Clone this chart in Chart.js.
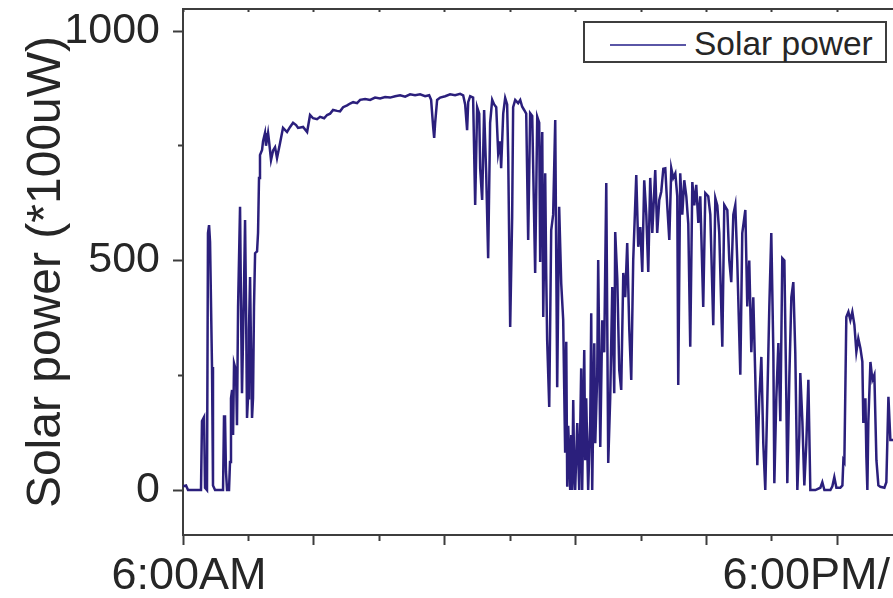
<!DOCTYPE html>
<html>
<head>
<meta charset="utf-8">
<title>Solar power</title>
<script src="https://cdn.jsdelivr.net/npm/chart.js@4.4.1/dist/chart.umd.min.js"></script>
<style>
  html, body { margin: 0; padding: 0; background: #fff; }
  #wrap { position: relative; width: 893px; height: 598px; overflow: hidden; }
  #legend {
    position: absolute; left: 583px; top: 21px; width: 304px; height: 42px;
    box-sizing: border-box; border: 2px solid #3d3d3d; background: #fff;
    font-family: 'Liberation Sans', Arial, sans-serif; color: #262626;
  }
  #legend .swatch { position: absolute; left: 25px; top: 21px; width: 76px; height: 2px; background: #5a56a6; }
  #legend .label { position: absolute; left: 109px; top: 4px; font-size: 33.5px; line-height: 33px; white-space: nowrap; }
</style>
</head>
<body>
<div id="wrap">
  <canvas id="chart" width="893" height="598"></canvas>
  <div id="legend"><span class="swatch"></span><span class="label">Solar power</span></div>
</div>
<script>
// minutes after 6:00AM
const timeMin = [
  0, 2.8, 4.6, 16.5, 17.4, 19.3, 20.2, 22.0, 22.9, 23.9,
  24.8, 26.6, 27.5, 29.4, 36.7, 37.6, 38.5, 39.4, 40.4, 42.2,
  43.1, 44.0, 45.0, 45.9, 46.8, 48.6, 49.5, 50.5, 52.3, 53.2,
  54.1, 56.0, 56.9, 57.8, 58.7, 59.6, 60.5, 61.5, 62.4, 63.3,
  64.2, 65.1, 66.1, 67.9, 68.8, 69.7, 70.6, 72.5, 73.4, 75.2,
  76.1, 78.0, 78.9, 80.7, 82.6, 84.4, 86.2, 89.0, 91.7, 95.4,
  98.2, 100.9, 103.7, 105.5, 110.1, 113.8, 116.5, 119.3, 122.9, 125.7,
  129.4, 132.1, 134.9, 137.6, 141.3, 144.0, 146.8, 150.5, 153.2, 156.0,
  159.6, 162.4, 167.0, 171.6, 176.1, 180.7, 185.3, 189.9, 194.5, 199.1,
  203.7, 208.2, 212.8, 217.4, 222.0, 225.7, 227.5, 229.4, 230.3, 231.2,
  233.0, 235.8, 240.4, 244.9, 249.5, 254.1, 256.9, 258.7, 260.5, 261.5,
  263.3, 266.0, 267.9, 269.7, 271.6, 272.5, 274.3, 276.1, 278.0, 279.8,
  281.6, 283.5, 285.3, 287.2, 289.0, 290.8, 291.7, 293.6, 295.4, 297.2,
  298.2, 300.0, 301.8, 302.7, 304.6, 307.3, 309.2, 311.0, 312.8, 314.7,
  316.5, 318.3, 320.2, 322.9, 324.8, 326.6, 327.5, 328.4, 329.4, 330.3,
  332.1, 333.0, 333.9, 335.8, 337.6, 339.4, 341.3, 343.1, 344.9, 346.8,
  348.6, 350.4, 351.4, 352.3, 353.2, 354.1, 355.0, 356.0, 356.9, 357.8,
  358.7, 359.6, 361.5, 363.3, 365.1, 366.0, 367.9, 368.8, 369.7, 371.5,
  373.4, 374.3, 375.2, 377.1, 378.0, 379.8, 380.7, 382.6, 384.4, 386.2,
  388.1, 389.9, 391.7, 393.6, 395.4, 396.3, 398.2, 400.0, 401.8, 403.7,
  405.5, 407.3, 409.2, 411.0, 412.8, 415.6, 417.4, 419.3, 421.1, 422.9,
  424.8, 426.6, 428.4, 430.3, 433.0, 434.8, 436.7, 438.5, 440.4, 442.2,
  444.0, 445.9, 447.7, 449.5, 451.4, 453.2, 454.1, 455.9, 457.8, 459.6,
  461.5, 463.3, 465.1, 467.0, 468.8, 470.6, 472.5, 474.3, 477.0, 478.9,
  481.6, 483.5, 486.2, 488.1, 489.9, 491.7, 494.5, 496.3, 499.1, 500.9,
  502.7, 504.6, 506.4, 508.2, 511.0, 512.8, 515.6, 517.4, 519.2, 521.1,
  522.9, 524.7, 526.6, 528.4, 530.3, 532.1, 533.9, 535.8, 537.6, 539.4,
  541.3, 542.2, 544.0, 545.9, 547.7, 549.5, 551.4, 553.2, 554.1, 556.0,
  557.8, 559.6, 561.4, 563.3, 565.1, 566.0, 567.9, 569.7, 571.5, 573.4,
  575.2, 579.8, 584.4, 586.2, 588.1, 593.6, 595.4, 597.2, 599.1, 602.7,
  604.6, 605.5, 606.4, 608.2, 610.1, 611.9, 613.7, 615.6, 617.4, 619.2,
  621.1, 622.9, 623.8, 625.7, 626.6, 627.5, 628.4, 630.3, 632.1, 633.9,
  635.8, 637.6, 639.4, 643.1, 644.9, 646.8, 648.6, 651.4
];

// *100uW
const solarPower = [
  8, 10, 0, 0, 150, 159, 5, 0, 560, 577,
  540, 268, 10, 0, 0, 160, 163, 40, 0, 0,
  61, 200, 218, 120, 276, 260, 141, 400, 617, 400,
  211, 450, 588, 400, 157, 200, 350, 464, 300, 157,
  200, 400, 516, 520, 560, 680, 730, 741, 760, 778,
  750, 778, 760, 719, 740, 747, 723, 756, 789, 780,
  791, 800, 795, 789, 791, 780, 817, 810, 808, 813,
  810, 817, 820, 828, 826, 825, 834, 838, 842, 845,
  843, 850, 852, 850, 855, 853, 856, 855, 858, 860,
  857, 862, 860, 862, 858, 860, 850, 790, 767, 800,
  850, 855, 858, 862, 860, 863, 860, 840, 784, 845,
  858, 855, 621, 834, 820, 700, 632, 828, 690, 505,
  800, 850, 840, 834, 734, 760, 701, 820, 854, 840,
  725, 355, 594, 834, 850, 843, 850, 835, 828, 820,
  545, 821, 815, 473, 813, 800, 497, 690, 780, 377,
  690, 475, 327, 181, 566, 600, 806, 224, 617, 450,
  371, 81, 323, 7, 140, 80, 0, 120, 0, 196,
  40, 0, 146, 0, 265, 0, 305, 65, 200, 0,
  150, 385, 0, 320, 102, 250, 501, 94, 370, 300,
  669, 59, 200, 442, 211, 562, 460, 261, 218, 473,
  420, 538, 350, 240, 500, 686, 530, 573, 475, 675,
  600, 475, 680, 560, 697, 560, 632, 650, 700, 701,
  620, 545, 701, 680, 690, 640, 229, 690, 600, 675,
  640, 580, 312, 671, 620, 665, 582, 640, 399, 647,
  640, 600, 359, 636, 620, 560, 312, 621, 610, 500,
  453, 600, 621, 500, 251, 560, 610, 400, 500, 300,
  420, 250, 54, 200, 290, 100, 0, 200, 400, 560,
  300, 15, 200, 320, 150, 505, 500, 200, 15, 250,
  420, 453, 300, 0, 120, 255, 150, 10, 100, 240,
  0, 0, 5, 17, 0, 0, 8, 28, 5, 5,
  10, 65, 61, 377, 388, 370, 388, 360, 301, 330,
  309, 280, 146, 200, 72, 0, 150, 279, 240, 251,
  65, 10, 7, 5, 17, 203, 109, 109
];

const xMajor = [0, 120, 240, 360, 480, 600];
const xMinor = [60, 180, 300, 420, 540];
const xLabelAt = [5.5, 571.5];
const xLabelText = ['6:00AM', '6:00PM/'];
const yMajor = [0, 500, 1000];
const yMinor = [250, 750];

const AXIS = '#3d3d3d';
const TEXT = '#262626';
const LINE = '#2b1f7c';
const FONT = "'Liberation Sans', Arial, sans-serif";

const byValue = (a, b) => a - b;
const xTickValues = [...xMajor, ...xMinor, ...xLabelAt].sort(byValue);
const topTickValues = [...xMajor, ...xMinor].sort(byValue);
const yTickValues = [...yMajor, ...yMinor].sort(byValue);

const points = timeMin.map((t, i) => ({ x: t, y: solarPower[i] }));

new Chart(document.getElementById('chart'), {
  type: 'line',
  data: {
    datasets: [{
      label: 'Solar power',
      data: points,
      borderColor: LINE,
      borderWidth: 2.5,
      pointRadius: 0,
      tension: 0,
      fill: false
    }]
  },
  options: {
    responsive: false,
    animation: false,
    layout: { padding: 0 },
    plugins: {
      legend: { display: false },
      tooltip: { enabled: false }
    },
    scales: {
      x: {
        type: 'linear',
        position: 'bottom',
        min: 0,
        max: 651,
        afterBuildTicks: (s) => { s.ticks = xTickValues.map(v => ({ value: v })); },
        afterFit: (s) => { s.height = 63; s.paddingLeft = 0; s.paddingRight = 0; },
        ticks: {
          autoSkip: false,
          maxRotation: 0,
          minRotation: 0,
          padding: 5,
          color: TEXT,
          font: { family: FONT, size: 45 },
          callback: (v) => {
            const i = xLabelAt.indexOf(v);
            return i >= 0 ? xLabelText[i] : '';
          }
        },
        grid: {
          drawOnChartArea: false,
          tickLength: 10,
          tickWidth: 2,
          tickColor: (c) => xLabelAt.includes(c.tick && c.tick.value) ? 'rgba(0,0,0,0)' : AXIS,
          tickBorderDash: (c) => xMinor.includes(c.tick && c.tick.value) ? [5, 100] : []
        },
        border: { color: AXIS, width: 2 }
      },
      xTop: {
        type: 'linear',
        position: 'top',
        min: 0,
        max: 651,
        afterBuildTicks: (s) => { s.ticks = topTickValues.map(v => ({ value: v })); },
        afterFit: (s) => { s.height = 9; s.paddingLeft = 0; s.paddingRight = 0; },
        ticks: { display: false },
        grid: { drawOnChartArea: false, tickLength: -3, tickWidth: 2, tickColor: AXIS },
        border: { color: AXIS, width: 2 }
      },
      y: {
        min: -98,
        max: 1048,
        afterBuildTicks: (s) => { s.ticks = yTickValues.map(v => ({ value: v })); },
        afterFit: (s) => { s.width = 183; s.paddingTop = 0; s.paddingBottom = 0; },
        ticks: {
          autoSkip: false,
          padding: 13,
          color: TEXT,
          font: { family: FONT, size: 43 },
          callback: (v) => yMajor.includes(v) ? String(v) : ''
        },
        grid: {
          drawOnChartArea: false,
          tickLength: 10,
          tickWidth: 2,
          tickColor: AXIS,
          tickBorderDash: (c) => yMinor.includes(c.tick && c.tick.value) ? [0, 5, 5, 0] : []
        },
        border: { color: AXIS, width: 2 },
        title: {
          display: true,
          text: 'Solar power (*100uW)',
          color: TEXT,
          font: { family: FONT, size: 48 },
          padding: { top: 18, bottom: 0 }
        }
      }
    }
  }
});
</script>
</body>
</html>
